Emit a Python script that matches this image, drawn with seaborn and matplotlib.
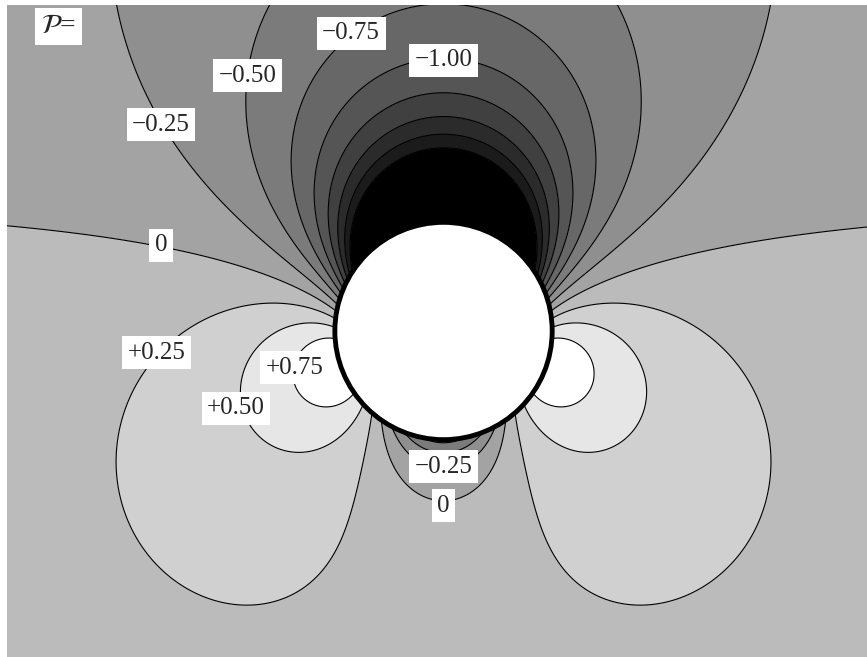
import numpy as np
import matplotlib
matplotlib.use('Agg')
import matplotlib.pyplot as plt
from matplotlib.patches import Circle
import seaborn as sns

# pressure field around a cylinder with circulation, levels and labels
gamma = 0.64
levels = [-2.0, -1.75, -1.5, -1.25, -1.0, -0.75, -0.5, -0.25, 0.0, 0.25, 0.5, 0.75]
band_grays = ['#000000', '#1b1b1b', '#2b2b2b', '#404040', '#555555', '#676767', '#7b7b7b',
              '#8f8f8f', '#a3a3a3', '#bbbbbb', '#d0d0d0', '#e6e6e6', '#ffffff']
label_texts = ['\u22120.75', '\u22121.00', '\u22120.50', '\u22120.25', '0', '+0.25', '+0.75',
               '+0.50', '\u22120.25', '0']
label_x = [-0.85, 0.0, -1.80, -2.60, -2.60, -2.64, -1.37, -1.91, 0.0, 0.0]
label_y = [2.74, 2.49, 2.35, 1.90, 0.79, -0.20, -0.34, -0.71, -1.25, -1.61]

sns.set_theme(style='white')
plt.rcParams['font.family'] = ['Liberation Serif', 'DejaVu Serif']
plt.rcParams['mathtext.fontset'] = 'stix'
plt.rcParams['contour.negative_linestyle'] = 'solid'

# grid and complex velocity w = 1 - 1/z^2 + i*gamma/z
x = np.linspace(-4.2, 4.2, 1000)
y = np.linspace(-3.1, 3.1, 760)
X, Y = np.meshgrid(x, y)
Z = X + 1j * Y
Z[np.abs(Z) < 0.9] = np.nan
W = 1 - 1 / Z**2 + 1j * gamma / Z
P = 1 - np.abs(W)**2

fig = plt.figure(figsize=(8.67, 6.57), dpi=100)
ax = fig.add_axes([7 / 867, 0, 860 / 867, 652 / 657])
fill_levels = [-100] + levels + [100]
ax.contourf(X, Y, P, levels=fill_levels, colors=band_grays)
ax.contour(X, Y, P, levels=levels, colors='black', linewidths=0.8, linestyles='solid')
ax.add_patch(Circle((0, 0), 1.0, facecolor='white', edgecolor='black', linewidth=3.5, zorder=3))

box = dict(boxstyle='square,pad=0.22', facecolor='white', edgecolor='none')
for t, lx, ly in zip(label_texts, label_x, label_y):
    ax.text(lx, ly, t, fontsize=18, ha='center', va='center', bbox=box, zorder=4)
ax.text(-3.54, 2.80, r'$\mathcal{P}$=', fontsize=20, ha='center', va='center', bbox=box, zorder=4)

ax.set_xlim(-4.017, 3.897)
ax.set_ylim(-3.0, 3.0)
ax.set_axis_off()
fig.savefig('out.png', dpi=100, facecolor='white')
